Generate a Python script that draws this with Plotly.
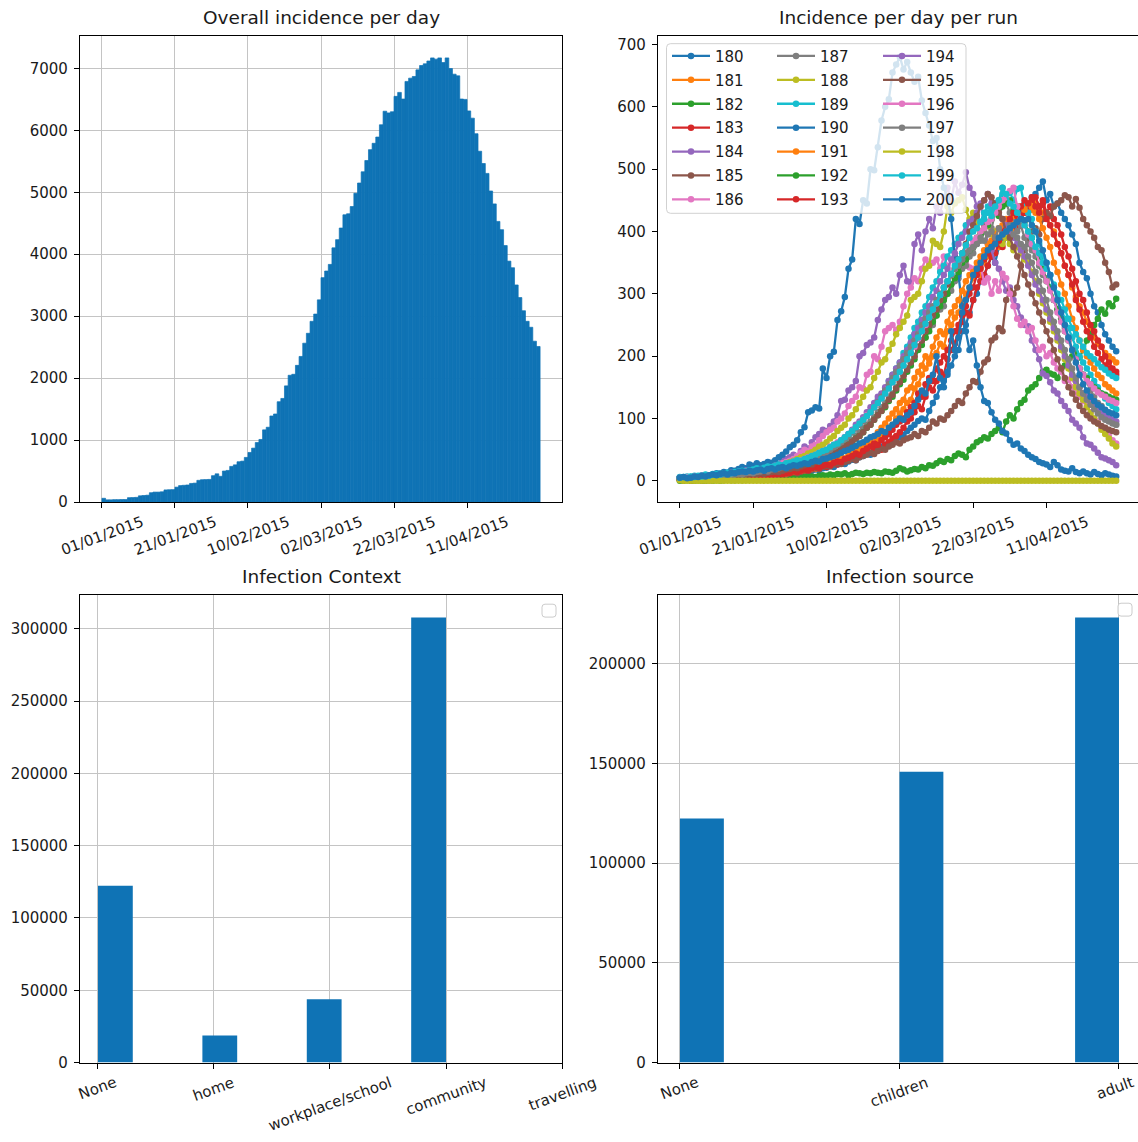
import numpy as np
import pandas as pd
import plotly.graph_objects as go

# ---------------- data ----------------
start_date = "2015-01-01"
n_days = 120

overall_incidence = [
    60, 35, 35, 38, 38, 40, 40, 70, 72, 75,
    100, 105, 110, 150, 160, 160, 165, 195, 198, 200,
    240, 265, 270, 275, 300, 305, 350, 360, 362, 365,
    425, 455, 415, 500, 510, 575, 600, 650, 660, 720,
    800, 870, 960, 1010, 1165, 1207, 1389, 1421, 1619, 1672,
    1875, 2046, 2062, 2206, 2350, 2564, 2724, 2917, 3034, 3264,
    3622, 3729, 3836, 4103, 4236, 4423, 4637, 4653, 4770, 4984,
    5150, 5331, 5513, 5689, 5791, 5892, 6090, 6309, 6282, 6300,
    6549, 6613, 6506, 6790, 6843, 6870, 6977, 7047, 7074, 7120,
    7170, 7150, 7170, 7095, 7170, 6998, 6907, 6880, 6506, 6500,
    6314, 6197, 5946, 5663, 5465, 5305, 5021, 4813, 4530, 4397,
    4140, 3889, 3782, 3504, 3301, 3088, 2917, 2821, 2596, 2511,
]

run_180 = [
    3, 2, 3, 1, 2, 2, 3, 1, 2, 2, 3, 2, 4, 3, 3, 4, 5, 4, 4, 6,
    5, 6, 7, 6, 8, 7, 9, 8, 10, 11, 10, 12, 13, 12, 15, 14, 16, 18, 17, 20,
    21, 24, 22, 26, 28, 27, 31, 34, 33, 38, 40, 44, 42, 48, 52, 55, 58, 56, 63, 66,
    70, 74, 80, 85, 90, 96, 100, 98, 112, 125, 135, 150, 160, 170, 185, 200, 210, 240, 250, 270,
    290, 300, 320, 330, 345, 360, 350, 375, 385, 400, 395, 410, 420, 430, 445, 440, 455, 460, 470, 480,
    450, 460, 440, 445, 430, 420, 410, 395, 380, 350, 335, 325, 300, 280, 270, 250, 235, 225, 215, 208,
]
run_181 = [
    4, 3, 2, 3, 2, 1, 2, 3, 2, 3, 2, 3, 3, 4, 3, 5, 4, 5, 6, 5,
    6, 7, 6, 8, 9, 8, 10, 11, 10, 12, 13, 12, 15, 16, 15, 18, 20, 19, 22, 24,
    26, 28, 27, 31, 35, 33, 38, 42, 45, 48, 52, 55, 60, 58, 66, 72, 78, 85, 90, 100,
    108, 115, 125, 130, 148, 155, 170, 180, 188, 200, 205, 220, 215, 240, 250, 262, 270, 285, 300, 310,
    325, 335, 330, 350, 360, 370, 380, 375, 395, 400, 410, 405, 420, 425, 430, 440, 435, 445, 440, 430,
    425, 410, 400, 380, 365, 345, 330, 310, 295, 280, 270, 255, 240, 230, 220, 215, 205, 200, 195, 190,
]
run_182 = [
    0, 0, 1, 0, 0, 1, 0, 0, 1, 0, 1, 0, 1, 2, 1, 1, 2, 1, 2, 3,
    2, 3, 2, 3, 4, 3, 4, 5, 4, 5, 5, 6, 5, 7, 6, 8, 7, 6, 8, 9,
    8, 10, 9, 11, 10, 12, 9, 11, 13, 12, 11, 13, 12, 14, 13, 12, 15, 14, 13, 16,
    20, 18, 15, 17, 19, 18, 22, 20, 25, 24, 28, 32, 30, 35, 33, 40, 44, 42, 38, 50,
    55, 62, 65, 70, 68, 75, 80, 85, 78, 95, 105, 100, 115, 125, 130, 145, 150, 155, 165, 175,
    178, 172, 170, 165, 180, 185, 195, 200, 205, 198, 210, 225, 235, 250, 260, 275, 268, 285, 280, 292,
]
run_183 = [
    2, 3, 2, 1, 2, 3, 2, 2, 1, 3, 2, 3, 2, 4, 3, 4, 5, 4, 6, 5,
    6, 5, 7, 8, 7, 9, 8, 10, 12, 11, 12, 14, 13, 15, 17, 16, 19, 21, 20, 23,
    22, 25, 28, 26, 30, 32, 35, 38, 36, 40, 42, 48, 45, 52, 55, 50, 58, 62, 68, 72,
    78, 85, 95, 100, 110, 120, 115, 135, 150, 145, 160, 175, 170, 195, 210, 220, 240, 255, 270, 265,
    290, 310, 320, 330, 345, 360, 365, 380, 375, 395, 400, 410, 405, 425, 430, 440, 450, 455, 440, 450,
    430, 440, 420, 410, 395, 375, 360, 340, 320, 300, 290, 270, 250, 240, 225, 215, 200, 190, 180, 175,
]
run_184 = [
    4, 3, 2, 4, 3, 5, 4, 6, 5, 7, 6, 8, 9, 8, 11, 10, 13, 12, 15, 14,
    17, 16, 19, 22, 20, 25, 28, 26, 32, 35, 38, 42, 40, 48, 55, 52, 62, 70, 75, 82,
    80, 88, 95, 105, 128, 130, 145, 150, 160, 200, 205, 218, 222, 230, 258, 275, 290, 295, 310, 300,
    330, 345, 320, 318, 380, 395, 370, 400, 420, 405, 440, 430, 455, 470, 450, 480, 462, 475, 495, 470,
    460, 440, 445, 410, 380, 370, 350, 340, 320, 305, 310, 290, 280, 262, 250, 248, 225, 210, 195, 172,
    168, 158, 145, 140, 128, 120, 112, 98, 92, 85, 70, 60, 58, 52, 45, 38, 36, 33, 30, 25,
]
run_185 = [
    3, 2, 2, 1, 2, 3, 2, 1, 2, 3, 2, 3, 4, 3, 4, 5, 4, 6, 5, 6,
    7, 6, 8, 7, 9, 10, 8, 11, 12, 10, 13, 14, 12, 15, 17, 16, 18, 20, 19, 22,
    24, 23, 26, 28, 27, 30, 32, 35, 33, 38, 40, 42, 45, 43, 48, 52, 50, 55, 58, 62,
    60, 65, 68, 70, 75, 72, 80, 78, 85, 95, 92, 100, 98, 105, 112, 120, 128, 125, 140, 150,
    160, 158, 175, 190, 195, 225, 230, 245, 240, 290, 305, 300, 310, 345, 370, 385, 400, 405, 395, 420,
    430, 425, 440, 445, 450, 458, 455, 440, 452, 438, 420, 410, 400, 390, 375, 370, 350, 335, 310, 315,
]
run_186 = [
    5, 4, 3, 5, 4, 6, 5, 4, 6, 7, 8, 7, 9, 10, 9, 12, 11, 13, 12, 15,
    14, 16, 18, 17, 20, 22, 21, 25, 28, 30, 32, 35, 40, 45, 50, 48, 55, 58, 65, 72,
    78, 82, 85, 95, 100, 108, 120, 128, 135, 150, 148, 170, 175, 200, 195, 215, 240, 245, 250, 242,
    255, 280, 300, 310, 325, 320, 340, 355, 348, 350, 355, 340, 360, 345, 330, 350, 338, 345, 360, 342,
    340, 330, 345, 318, 325, 300, 320, 305, 332, 325, 300, 280, 260, 250, 255, 240, 245, 225, 210, 215,
    200, 205, 190, 180, 175, 160, 162, 150, 140, 135, 128, 120, 110, 100, 95, 85, 80, 72, 65, 60,
]
run_187 = [
    5, 4, 3, 4, 3, 5, 4, 5, 6, 5, 6, 7, 6, 8, 7, 9, 8, 10, 11, 10,
    12, 11, 13, 15, 14, 16, 18, 17, 19, 21, 22, 24, 23, 27, 28, 30, 33, 32, 36, 38,
    40, 44, 46, 50, 55, 58, 62, 65, 72, 78, 85, 90, 95, 102, 110, 118, 125, 135, 140, 150,
    160, 170, 180, 190, 200, 215, 225, 230, 245, 250, 265, 275, 280, 300, 305, 320, 325, 340, 345, 360,
    365, 380, 385, 400, 410, 405, 430, 440, 470, 445, 430, 420, 400, 410, 390, 380, 370, 360, 345, 330,
    325, 310, 290, 275, 260, 245, 230, 210, 195, 180, 170, 160, 145, 135, 125, 120, 110, 100, 95, 90,
]
run_188 = [
    5, 4, 5, 6, 5, 7, 6, 7, 8, 7, 9, 8, 10, 11, 10, 12, 13, 12, 14, 15,
    16, 15, 18, 19, 20, 22, 21, 24, 26, 28, 30, 32, 35, 38, 40, 44, 46, 50, 55, 58,
    62, 68, 72, 80, 85, 90, 100, 105, 115, 125, 135, 145, 150, 165, 175, 190, 195, 210, 220, 235,
    245, 255, 265, 290, 295, 300, 320, 340, 345, 385, 380, 375, 400, 440, 430, 445, 450, 455, 435, 420,
    430, 415, 400, 405, 410, 395, 400, 385, 380, 390, 380, 370, 375, 365, 355, 350, 335, 320, 300, 285,
    270, 255, 240, 225, 210, 195, 180, 165, 150, 140, 130, 118, 108, 100, 92, 82, 75, 68, 60, 55,
]
run_189 = [
    6, 5, 7, 6, 8, 7, 9, 10, 9, 11, 10, 12, 11, 13, 12, 14, 15, 14, 16, 17,
    18, 17, 19, 20, 22, 21, 23, 25, 24, 26, 28, 30, 29, 32, 34, 36, 38, 40, 42, 45,
    48, 52, 55, 58, 62, 68, 72, 78, 85, 92, 98, 105, 112, 120, 130, 138, 148, 160, 170, 180,
    190, 205, 215, 230, 245, 255, 270, 280, 295, 310, 320, 335, 345, 360, 370, 380, 390, 395, 410, 415,
    420, 425, 415, 430, 440, 435, 445, 450, 460, 455, 462, 450, 468, 470, 440, 430, 420, 400, 380, 360,
    350, 330, 310, 290, 275, 260, 245, 230, 215, 200, 190, 180, 170, 160, 150, 140, 132, 125, 120, 115,
]
run_190 = [
    5, 3, 4, 6, 5, 4, 7, 6, 8, 10, 12, 11, 14, 13, 17, 16, 19, 22, 20, 26,
    24, 28, 25, 27, 30, 29, 33, 38, 42, 47, 54, 58, 65, 78, 86, 110, 113, 118, 116, 180,
    165, 200, 207, 258, 272, 295, 340, 355, 420, 412, 450, 445, 500, 498, 535, 578, 600, 612, 655, 668,
    680, 660, 672, 655, 640, 648, 610, 590, 570, 545, 550, 500, 470, 455, 420, 360, 330, 280, 240, 210,
    225, 185, 150, 128, 125, 110, 98, 92, 80, 76, 65, 58, 60, 52, 48, 42, 38, 35, 30, 28,
    26, 22, 30, 25, 18, 16, 15, 20, 14, 12, 15, 12, 10, 14, 11, 9, 12, 10, 8, 7,
]
run_191 = [
    3, 2, 3, 2, 1, 2, 3, 2, 3, 2, 3, 4, 3, 4, 5, 4, 5, 6, 5, 7,
    6, 8, 7, 9, 10, 9, 11, 12, 13, 12, 14, 15, 17, 16, 19, 21, 20, 23, 25, 27,
    28, 31, 30, 34, 38, 36, 42, 45, 50, 55, 58, 62, 68, 70, 78, 85, 92, 100, 108, 115,
    125, 130, 145, 150, 165, 175, 185, 200, 195, 215, 230, 240, 235, 255, 270, 280, 290, 305, 320, 330,
    335, 350, 360, 370, 380, 385, 395, 405, 410, 420, 415, 425, 430, 440, 435, 445, 440, 430, 420, 405,
    390, 375, 350, 335, 315, 300, 280, 260, 245, 225, 210, 200, 190, 180, 170, 165, 155, 150, 145, 140,
]
run_192 = [
    4, 3, 4, 5, 4, 3, 5, 4, 6, 5, 6, 5, 7, 6, 8, 7, 9, 8, 10, 9,
    11, 10, 12, 13, 12, 14, 15, 16, 15, 18, 19, 21, 20, 23, 25, 24, 27, 30, 32, 34,
    36, 40, 42, 46, 50, 55, 58, 62, 68, 72, 78, 85, 90, 98, 105, 112, 118, 128, 135, 145,
    155, 162, 175, 185, 195, 210, 218, 230, 240, 255, 265, 280, 290, 300, 315, 325, 335, 350, 355, 370,
    375, 390, 395, 405, 410, 420, 430, 425, 440, 445, 450, 435, 440, 420, 415, 400, 390, 370, 355, 340,
    320, 310, 290, 275, 260, 240, 225, 210, 195, 180, 170, 165, 155, 150, 145, 140, 138, 135, 132, 130,
]
run_193 = [
    2, 1, 2, 3, 2, 2, 1, 3, 2, 3, 3, 2, 4, 3, 4, 5, 4, 5, 6, 5,
    7, 6, 8, 7, 9, 8, 10, 11, 10, 12, 13, 15, 14, 16, 18, 17, 20, 22, 21, 24,
    26, 25, 29, 31, 30, 35, 37, 40, 44, 42, 48, 52, 55, 60, 58, 65, 70, 75, 82, 90,
    95, 100, 110, 118, 125, 140, 135, 155, 165, 160, 180, 190, 200, 210, 225, 240, 250, 265, 280, 300,
    310, 330, 340, 355, 365, 375, 390, 385, 400, 410, 420, 430, 425, 440, 450, 445, 455, 440, 430, 445,
    420, 410, 395, 380, 365, 345, 330, 315, 290, 275, 255, 240, 230, 215, 205, 195, 185, 180, 175, 170,
]
run_194 = [
    4, 3, 4, 3, 5, 4, 6, 5, 6, 7, 6, 8, 7, 9, 8, 10, 11, 10, 12, 13,
    14, 13, 15, 17, 16, 18, 20, 19, 22, 24, 25, 27, 29, 28, 32, 35, 34, 38, 42, 45,
    48, 52, 55, 60, 65, 70, 75, 82, 90, 95, 102, 110, 118, 125, 135, 140, 150, 160, 170, 180,
    190, 200, 210, 222, 235, 245, 258, 270, 280, 295, 305, 320, 330, 340, 355, 365, 380, 390, 400, 415,
    420, 430, 440, 450, 460, 445, 440, 430, 420, 410, 400, 390, 380, 370, 360, 345, 330, 315, 305, 290,
    275, 260, 245, 230, 215, 200, 185, 170, 160, 150, 140, 135, 128, 122, 115, 110, 105, 100, 98, 95,
]
run_195 = [
    3, 2, 3, 4, 3, 4, 3, 5, 4, 5, 5, 6, 5, 7, 6, 8, 7, 9, 8, 10,
    11, 10, 12, 11, 13, 14, 15, 14, 16, 18, 19, 21, 20, 23, 25, 27, 26, 30, 32, 35,
    37, 40, 44, 46, 50, 55, 58, 63, 68, 72, 78, 85, 90, 98, 105, 112, 120, 130, 138, 148,
    158, 168, 178, 190, 200, 215, 225, 240, 250, 265, 275, 290, 300, 315, 330, 340, 355, 365, 380, 400,
    410, 425, 440, 450, 460, 455, 445, 430, 420, 400, 390, 375, 360, 345, 330, 315, 300, 285, 270, 255,
    240, 225, 210, 195, 180, 165, 150, 140, 130, 120, 112, 105, 100, 95, 92, 88, 85, 82, 80, 78,
]
run_196 = [
    5, 4, 6, 5, 7, 6, 8, 7, 9, 8, 10, 11, 10, 12, 13, 12, 14, 15, 16, 15,
    17, 19, 18, 20, 22, 21, 24, 25, 27, 26, 28, 31, 30, 33, 35, 38, 40, 42, 45, 48,
    50, 55, 58, 62, 65, 70, 75, 80, 85, 92, 98, 105, 110, 118, 125, 132, 140, 150, 158, 168,
    175, 185, 195, 205, 215, 228, 240, 250, 262, 275, 285, 298, 310, 320, 330, 340, 350, 360, 368, 375,
    385, 390, 400, 405, 415, 420, 430, 440, 450, 455, 465, 470, 440, 420, 410, 395, 380, 370, 350, 335,
    320, 305, 290, 270, 255, 240, 225, 210, 195, 180, 170, 160, 155, 148, 142, 138, 135, 130, 128, 125,
]
run_197 = [
    4, 5, 4, 3, 5, 4, 6, 5, 7, 6, 7, 8, 7, 9, 8, 10, 11, 10, 12, 13,
    12, 14, 15, 16, 15, 18, 19, 20, 22, 21, 24, 26, 25, 28, 30, 32, 35, 37, 40, 43,
    46, 50, 54, 58, 62, 68, 72, 78, 84, 90, 96, 104, 110, 118, 126, 135, 145, 155, 165, 175,
    185, 195, 205, 215, 225, 235, 250, 260, 270, 280, 290, 300, 310, 320, 330, 340, 345, 355, 365, 370,
    375, 380, 390, 385, 395, 400, 390, 405, 395, 400, 410, 395, 390, 380, 375, 360, 350, 335, 320, 305,
    290, 270, 255, 240, 225, 210, 195, 180, 165, 150, 140, 130, 122, 115, 108, 102, 98, 95, 92, 90,
]
run_198 = [1] + [0] * 119
run_199 = [
    5, 6, 5, 7, 6, 8, 7, 9, 8, 10, 11, 10, 12, 13, 12, 14, 15, 16, 15, 17,
    18, 20, 19, 21, 23, 22, 24, 26, 25, 28, 29, 31, 33, 32, 35, 37, 40, 42, 45, 48,
    50, 54, 58, 60, 65, 70, 75, 80, 86, 92, 98, 104, 110, 118, 125, 132, 140, 148, 158, 165,
    175, 185, 195, 205, 218, 230, 240, 252, 262, 275, 285, 298, 310, 320, 332, 345, 355, 365, 378, 390,
    400, 405, 415, 420, 430, 425, 440, 450, 470, 460, 445, 440, 430, 420, 410, 400, 390, 375, 365, 350,
    340, 330, 315, 300, 290, 275, 260, 245, 235, 225, 215, 205, 200, 195, 188, 182, 178, 172, 168, 165,
]
run_200 = [
    5, 6, 4, 5, 7, 6, 8, 7, 9, 10, 9, 11, 12, 10, 13, 12, 14, 15, 14, 16,
    15, 17, 18, 16, 19, 20, 18, 21, 22, 20, 23, 25, 24, 26, 28, 27, 30, 32, 31, 35,
    36, 38, 40, 42, 45, 48, 50, 53, 56, 60, 62, 66, 70, 72, 75, 80, 78, 85, 90, 95,
    100, 98, 105, 110, 120, 130, 145, 140, 160, 170, 200, 165, 150, 175, 240, 210, 230, 270, 290, 310,
    330, 340, 350, 360, 370, 375, 380, 390, 395, 400, 405, 410, 415, 420, 418, 420, 410, 400, 385, 370,
    350, 330, 310, 290, 270, 250, 230, 210, 190, 170, 155, 145, 135, 128, 122, 118, 114, 110, 108, 105,
]

run_ids = [180, 181, 182, 183, 184, 185, 186, 187, 188, 189, 190,
           191, 192, 193, 194, 195, 196, 197, 198, 199, 200]
run_series = [run_180, run_181, run_182, run_183, run_184, run_185, run_186,
              run_187, run_188, run_189, run_190, run_191, run_192, run_193,
              run_194, run_195, run_196, run_197, run_198, run_199, run_200]

date_tick_days = [0, 20, 40, 60, 80, 100]
date_tick_labels = ["01/01/2015", "21/01/2015", "10/02/2015",
                    "02/03/2015", "22/03/2015", "11/04/2015"]

context_categories = ["None", "home", "workplace/school", "community", "travelling"]
context_counts = [122300, 18750, 43750, 307750, 0]

source_categories = ["None", "children", "adult"]
source_counts = [122300, 145800, 223100]

# ---------------- styling ----------------
W, H = 1138, 1142
FONT = "DejaVu Sans"
TXT = "#1a1a1a"
BAR = "#0f73b5"
GRID = "#c4c4c4"
TAB10 = ["#1f77b4", "#ff7f0e", "#2ca02c", "#d62728", "#9467bd",
         "#8c564b", "#e377c2", "#7f7f7f", "#bcbd22", "#17becf"]
TICK_FS = 15
TITLE_FS = 18.5

# DejaVu Sans advance widths (em) used to centre rotated tick labels like matplotlib
CHAR_W = {"0": .636, "1": .636, "2": .636, "3": .636, "4": .636, "5": .636,
          "6": .636, "7": .636, "8": .636, "9": .636, "/": .337,
          "N": .748, "a": .613, "c": .550, "d": .635, "e": .615, "g": .635,
          "h": .634, "i": .278, "k": .579, "l": .278, "m": .974, "n": .634,
          "o": .612, "p": .635, "r": .411, "s": .521, "t": .392, "u": .634,
          "v": .592, "w": .818, "y": .592}
ANG = np.deg2rad(20)


def label_dims(text, fs=TICK_FS):
    w = fs * sum(CHAR_W.get(ch, 0.6) for ch in text)
    h = 1.164 * fs
    return w, h


def label_center_offset(text):
    w, h = label_dims(text)
    return 10.7 + (w * np.sin(ANG) + h * np.cos(ANG)) / 2


def label_half_width(text):
    w, h = label_dims(text)
    return (w * np.cos(ANG) + h * np.sin(ANG)) / 2


def px(x):
    return x / W


def py(y):
    return 1 - y / H


t0 = pd.Timestamp(start_date)
days = pd.date_range(t0, periods=n_days, freq="D")
day_ms = 86400000


def day_to_date(d):
    return t0 + pd.Timedelta(days=d)


fig = go.Figure()

# top-left: overall incidence bars (each spans one day)
fig.add_trace(go.Bar(x=days, y=overall_incidence, width=day_ms, offset=0,
                     marker=dict(color=BAR, line=dict(width=0.7, color=BAR)),
                     showlegend=False, xaxis="x", yaxis="y"))

# top-right: per-run lines
legend_names = ["legend", "legend2", "legend3"]
for i, (rid, vals) in enumerate(zip(run_ids, run_series)):
    col = TAB10[i % 10]
    fig.add_trace(go.Scatter(
        x=days, y=vals, mode="lines+markers", name=str(rid),
        line=dict(color=col, width=2.3),
        marker=dict(color=col, size=6.5),
        xaxis="x2", yaxis="y2",
        legend=legend_names[i // 7], legendgroup=str(rid)))


def hist_lefts(counts, nbins=10):
    present = [i for i, c in enumerate(counts) if c > 0]
    lo, hi = min(present), max(present)
    width = (hi - lo) / nbins
    lefts, hs = [], []
    for i in present:
        b = min(int(np.floor((i - lo) / width + 1e-9)), nbins - 1)
        lefts.append(lo + b * width)
        hs.append(counts[i])
    return lefts, hs, width


cl, ch, cw = hist_lefts(context_counts)
fig.add_trace(go.Bar(x=cl, y=ch, width=cw, offset=0,
                     marker=dict(color=BAR, line=dict(width=0)),
                     showlegend=False, xaxis="x3", yaxis="y3"))
sl, sh, sw = hist_lefts(source_counts)
fig.add_trace(go.Bar(x=sl, y=sh, width=sw, offset=0,
                     marker=dict(color=BAR, line=dict(width=0)),
                     showlegend=False, xaxis="x4", yaxis="y4"))

# ---------------- axes ----------------
common_ax = dict(showline=True, linecolor="black", linewidth=1.2,
                 ticks="outside", ticklen=5, tickwidth=1.1, tickcolor="black",
                 zeroline=False, gridcolor=GRID, gridwidth=1.1,
                 tickfont=dict(family=FONT, size=TICK_FS, color=TXT))

date_tickvals = [day_to_date(d) for d in date_tick_days]

TL = dict(x=(80, 562), y=(36, 506))
TR = dict(x=(658, 1138), y=(36, 506))
BL = dict(x=(80, 562), y=(600, 1071))
BR = dict(x=(658, 1138), y=(600, 1071))
BR_RANGE = [-0.1, 2.0866]


def dom(box):
    return [px(box["x"][0]), px(box["x"][1])], [py(box["y"][1]), py(box["y"][0])]


xd, yd = dom(TL)
fig.update_layout(
    xaxis=dict(common_ax, domain=xd, anchor="y", type="date", mirror=True,
               range=[day_to_date(-6), day_to_date(126)],
               tickvals=date_tickvals, showticklabels=False, showgrid=True),
    yaxis=dict(common_ax, domain=yd, anchor="x", mirror=True, range=[0, 7528],
               tickvals=list(range(0, 8000, 1000)), tickformat="d", showgrid=True,
               ticklabelstandoff=3),
)
xd, yd = dom(TR)
fig.update_layout(
    xaxis2=dict(common_ax, domain=xd, anchor="y2", type="date", mirror=True,
                range=[day_to_date(-5.95), day_to_date(124.95)],
                tickvals=date_tickvals, showticklabels=False, showgrid=False),
    yaxis2=dict(common_ax, domain=yd, anchor="x2", mirror=False, range=[-34, 714],
                tickvals=list(range(0, 800, 100)), tickformat="d", showgrid=False,
                ticklabelstandoff=3),
)
xd, yd = dom(BL)
fig.update_layout(
    xaxis3=dict(common_ax, domain=xd, anchor="y3", mirror=True,
                range=[-0.155, 4.0], tickvals=list(range(len(context_categories))),
                showticklabels=False, showgrid=True),
    yaxis3=dict(common_ax, domain=yd, anchor="x3", mirror=True, range=[0, 323140],
                tickvals=list(range(0, 350000, 50000)), tickformat="d", showgrid=True,
                ticklabelstandoff=3),
)
xd, yd = dom(BR)
fig.update_layout(
    xaxis4=dict(common_ax, domain=xd, anchor="y4", mirror=True,
                range=BR_RANGE, tickvals=list(range(len(source_categories))),
                showticklabels=False, showgrid=True),
    yaxis4=dict(common_ax, domain=yd, anchor="x4", mirror=False, range=[0, 234255],
                tickvals=list(range(0, 250000, 50000)), tickformat="d", showgrid=True,
                ticklabelstandoff=3),
)

# ---------------- annotations (titles + rotated tick labels) ----------------
ann = []
titles = [("Overall incidence per day", TL), ("Incidence per day per run", TR),
          ("Infection Context", BL), ("Infection source", BR)]
for txt, box in titles:
    cx = (box["x"][0] + box["x"][1]) / 2
    if box is BR:
        cx = (658 + 1141) / 2
    ann.append(dict(text=txt, x=px(cx), y=py(box["y"][0]), xref="paper", yref="paper",
                    xanchor="center", yanchor="bottom", yshift=6, showarrow=False,
                    font=dict(family=FONT, size=TITLE_FS, color=TXT)))


def tick_ann(lab, xval, xref, axis_bottom_px, xshift=0):
    return dict(text=lab, x=xval, xref=xref, y=py(axis_bottom_px), yref="paper",
                xanchor="center", yanchor="middle", xshift=xshift,
                yshift=-label_center_offset(lab), textangle=-20,
                showarrow=False, font=dict(family=FONT, size=TICK_FS, color=TXT))


for xa, box in (("x", TL), ("x2", TR)):
    for d, lab in zip(date_tick_days, date_tick_labels):
        ann.append(tick_ann(lab, day_to_date(d), xa, box["y"][1]))
for i, lab in enumerate(context_categories):
    ann.append(tick_ann(lab, i, "x3", BL["y"][1]))
for i, lab in enumerate(source_categories):
    # keep the last label inside the page (the reference shows it just at the edge)
    cx_px = BR["x"][0] + (i - BR_RANGE[0]) / (BR_RANGE[1] - BR_RANGE[0]) * (BR["x"][1] - BR["x"][0])
    overflow = cx_px + label_half_width(lab) - (W - 2)
    ann.append(tick_ann(lab, i, "x4", BR["y"][1], xshift=-overflow if overflow > 0 else 0))


# ---------------- legend frames ----------------
def rounded_rect(x0, y0, x1, y1, r):
    rx, ry = r / W, r / H
    X0, X1, Y0, Y1 = px(x0), px(x1), py(y0), py(y1)
    return (f"M{X0+rx},{Y0} L{X1-rx},{Y0} Q{X1},{Y0} {X1},{Y0-ry} "
            f"L{X1},{Y1+ry} Q{X1},{Y1} {X1-rx},{Y1} L{X0+rx},{Y1} "
            f"Q{X0},{Y1} {X0},{Y1+ry} L{X0},{Y0-ry} Q{X0},{Y0} {X0+rx},{Y0} Z")


shapes = [
    dict(type="path", path=rounded_rect(666.5, 44, 966, 215, 4), xref="paper", yref="paper",
         fillcolor="rgba(255,255,255,0.8)", line=dict(color="rgba(204,204,204,0.9)", width=1),
         layer="above"),
    dict(type="path", path=rounded_rect(542, 609, 556, 622, 3), xref="paper", yref="paper",
         fillcolor="rgba(255,255,255,0.8)", line=dict(color="#cccccc", width=1), layer="above"),
    dict(type="path", path=rounded_rect(1118, 608, 1132, 621, 3), xref="paper", yref="paper",
         fillcolor="rgba(255,255,255,0.8)", line=dict(color="#cccccc", width=1), layer="above"),
]

leg_common = dict(xanchor="left", yanchor="top", bgcolor="rgba(0,0,0,0)", borderwidth=0,
                  font=dict(family=FONT, size=TICK_FS, color=TXT), itemwidth=38,
                  tracegroupgap=1.4, orientation="v")
fig.update_layout(
    legend=dict(leg_common, x=px(667), y=py(40)),
    legend2=dict(leg_common, x=px(772), y=py(40)),
    legend3=dict(leg_common, x=px(878), y=py(40)),
)

fig.update_layout(
    width=W, height=H, margin=dict(l=0, r=0, t=0, b=0),
    paper_bgcolor="white", plot_bgcolor="white",
    font=dict(family=FONT, size=TICK_FS, color=TXT),
    annotations=ann, shapes=shapes, barmode="overlay",
)

fig.write_html("out.html")
